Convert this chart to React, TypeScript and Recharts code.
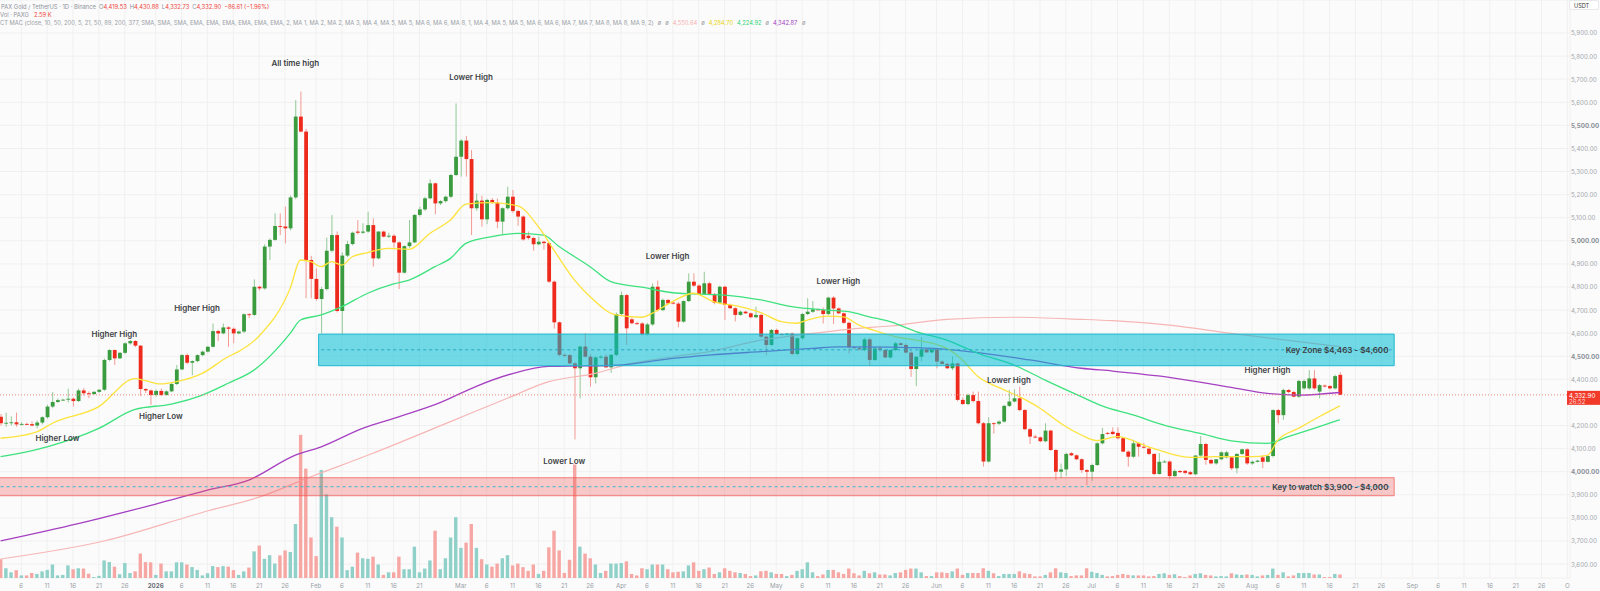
import React from "react";
import {
  ComposedChart,
  Bar,
  Line,
  XAxis,
  YAxis,
  CartesianGrid,
  ReferenceArea,
  ReferenceLine,
  ReferenceDot,
} from "recharts";

// PAXG/USDT daily candles, Dec 2 2025 .. Aug 18 2026 (axis runs on to Oct 1)
const totalDays = 304;

const opens = [
  4238, 4210, 4212, 4214, 4205, 4207, 4206, 4200, 4213, 4236,
  4282, 4302, 4310, 4312, 4316, 4306, 4352, 4340, 4336, 4346,
  4355, 4484, 4527, 4491, 4515, 4556, 4566, 4546, 4358, 4352,
  4332, 4350, 4332, 4348, 4380, 4443, 4505, 4472, 4479, 4505,
  4520, 4541, 4609, 4599, 4625, 4619, 4599, 4607, 4682, 4679,
  4801, 4794, 4975, 5004, 5064, 5062, 5054, 5188, 5538, 5473,
  4917, 4835, 4748, 4791, 4957, 5025, 4696, 4936, 4986, 5040,
  5035, 5040, 5068, 4924, 5040, 5018, 5022, 4993, 4862, 4977,
  4993, 5112, 5136, 5184, 5249, 5162, 5172, 5191, 5285, 5364,
  5434, 5354, 5141, 5174, 5093, 5177, 5165, 5083, 5141, 5191,
  5129, 5105, 5022, 5012, 4985, 4996, 4990, 4823, 4647, 4506,
  4505, 4469, 4448, 4542, 4498, 4409, 4495, 4498, 4452, 4506,
  4683, 4765, 4660, 4643, 4642, 4596, 4638, 4801, 4700, 4744,
  4732, 4728, 4650, 4739, 4823, 4806, 4770, 4816, 4770, 4732,
  4801, 4722, 4708, 4679, 4693, 4686, 4669, 4679, 4585, 4549,
  4614, 4596, 4594, 4598, 4510, 4578, 4683, 4693, 4703, 4700,
  4683, 4754, 4707, 4686, 4645, 4539, 4535, 4527, 4573, 4484,
  4534, 4527, 4495, 4527, 4556, 4549, 4516, 4445, 4498, 4530,
  4517, 4530, 4477, 4467, 4448, 4469, 4311, 4293, 4332, 4306,
  4210, 4044, 4210, 4208, 4217, 4285, 4304, 4318, 4267, 4184,
  4152, 4149, 4132, 4178, 4094, 4000, 4010, 4080, 4071, 4054,
  4007, 4000, 4029, 4123, 4168, 4173, 4168, 4145, 4087, 4065,
  4123, 4108, 4100, 4077, 3990, 4043, 4044, 3981, 4003, 4004,
  3998, 3989, 4070, 4120, 4051, 4036, 4054, 4062, 4062, 4015,
  4077, 4097, 4036, 4043, 4062, 4043, 4068, 4267, 4245, 4354,
  4345, 4325, 4361, 4361, 4404, 4347, 4373, 4371, 4361, 4419.53,
];

const highs = [
  4250, 4256, 4240, 4256, 4215, 4212, 4218, 4222, 4240, 4290,
  4345, 4318, 4316, 4360, 4322, 4360, 4362, 4348, 4348, 4356,
  4490, 4530, 4530, 4518, 4560, 4570, 4570, 4548, 4362, 4356,
  4356, 4360, 4352, 4385, 4462, 4510, 4512, 4482, 4508, 4524,
  4545, 4642, 4615, 4642, 4630, 4625, 4612, 4685, 4686, 4833,
  4805, 4985, 5010, 5119, 5119, 5148, 5196, 5610, 5646, 5485,
  4935, 4880, 4800, 5014, 5112, 5040, 4950, 5000, 5040, 5090,
  5076, 5126, 5097, 5042, 5044, 5035, 5028, 4998, 4980, 5090,
  5116, 5148, 5191, 5266, 5252, 5176, 5195, 5290, 5595, 5440,
  5454, 5393, 5205, 5195, 5182, 5185, 5183, 5145, 5234, 5220,
  5135, 5110, 5040, 5018, 5018, 5000, 4995, 4828, 4650, 4512,
  4510, 4475, 4545, 4600, 4510, 4500, 4505, 4508, 4510, 4690,
  4780, 4770, 4668, 4650, 4648, 4645, 4815, 4828, 4750, 4748,
  4736, 4735, 4742, 4859, 4859, 4812, 4866, 4822, 4775, 4806,
  4806, 4728, 4712, 4698, 4697, 4690, 4715, 4684, 4590, 4618,
  4620, 4600, 4600, 4603, 4582, 4688, 4751, 4739, 4708, 4712,
  4758, 4760, 4712, 4690, 4650, 4544, 4545, 4580, 4580, 4540,
  4545, 4532, 4530, 4562, 4560, 4556, 4525, 4500, 4582, 4535,
  4532, 4536, 4482, 4470, 4500, 4472, 4322, 4338, 4347, 4347,
  4215, 4236, 4214, 4222, 4290, 4354, 4356, 4368, 4272, 4190,
  4160, 4152, 4210, 4182, 4098, 4035, 4082, 4085, 4075, 4058,
  4012, 4035, 4128, 4190, 4172, 4192, 4192, 4150, 4092, 4138,
  4127, 4125, 4108, 4080, 4080, 4050, 4048, 4010, 4008, 4006,
  4004, 4072, 4155, 4125, 4056, 4055, 4088, 4090, 4066, 4080,
  4100, 4102, 4048, 4052, 4070, 4072, 4270, 4272, 4360, 4358,
  4350, 4398, 4400, 4440, 4440, 4380, 4378, 4376, 4420, 4430.88,
];

const lows = [
  4200, 4195, 4200, 4195, 4200, 4202, 4196, 4188, 4205, 4230,
  4275, 4298, 4306, 4300, 4282, 4302, 4330, 4318, 4334, 4342,
  4350, 4478, 4462, 4488, 4510, 4550, 4540, 4328, 4340, 4289,
  4325, 4328, 4330, 4345, 4375, 4440, 4465, 4418, 4475, 4500,
  4516, 4538, 4566, 4595, 4541, 4556, 4595, 4600, 4665, 4675,
  4785, 4788, 4917, 5000, 5025, 4989, 5045, 5180, 5470, 4751,
  4751, 4740, 4600, 4785, 4950, 4690, 4596, 4930, 4980, 5028,
  5030, 5035, 4888, 4920, 5015, 5012, 4970, 4791, 4858, 4970,
  4990, 5105, 5130, 5180, 5115, 5155, 5165, 5185, 5280, 5278,
  5278, 5025, 5130, 5061, 5072, 5160, 5054, 5028, 5135, 5120,
  5065, 5000, 5005, 4957, 4980, 4962, 4818, 4620, 4500, 4496,
  4465, 4140, 4318, 4495, 4369, 4382, 4490, 4450, 4428, 4500,
  4678, 4549, 4638, 4636, 4590, 4590, 4632, 4695, 4695, 4725,
  4724, 4625, 4645, 4735, 4800, 4765, 4765, 4765, 4725, 4728,
  4657, 4705, 4651, 4675, 4684, 4665, 4665, 4580, 4505, 4545,
  4592, 4590, 4590, 4505, 4505, 4572, 4678, 4688, 4698, 4642,
  4678, 4640, 4683, 4640, 4512, 4530, 4525, 4522, 4458, 4480,
  4520, 4492, 4490, 4522, 4548, 4512, 4411, 4371, 4478, 4512,
  4512, 4448, 4465, 4445, 4440, 4305, 4290, 4288, 4300, 4205,
  4022, 4040, 4165, 4202, 4212, 4280, 4300, 4262, 4180, 4120,
  4145, 4128, 4128, 4090, 3964, 3972, 3981, 4068, 4050, 3995,
  3942, 3960, 4025, 4118, 4160, 4160, 4140, 4085, 4022, 4060,
  4065, 4100, 4072, 3985, 3988, 4040, 3967, 3978, 3995, 3988,
  3986, 3985, 4065, 4030, 4032, 4030, 4050, 4058, 4007, 3993,
  4072, 4030, 4030, 4040, 4015, 4040, 4062, 4210, 4225, 4340,
  4322, 4320, 4355, 4355, 4355, 4318, 4365, 4356, 4356, 4332.73,
];

const closes = [
  4210, 4212, 4214, 4205, 4207, 4206, 4200, 4213, 4236, 4282,
  4302, 4310, 4312, 4316, 4306, 4352, 4340, 4336, 4346, 4355,
  4484, 4527, 4491, 4515, 4556, 4566, 4546, 4358, 4352, 4332,
  4350, 4332, 4348, 4380, 4443, 4505, 4472, 4479, 4505, 4520,
  4541, 4609, 4599, 4625, 4619, 4599, 4607, 4682, 4679, 4801,
  4794, 4975, 5004, 5064, 5062, 5054, 5188, 5538, 5473, 4917,
  4835, 4748, 4791, 4957, 5025, 4696, 4936, 4986, 5035, 5035,
  5040, 5068, 4924, 5040, 5018, 5022, 4993, 4862, 4977, 4993,
  5112, 5136, 5184, 5249, 5162, 5172, 5191, 5285, 5364, 5434,
  5354, 5141, 5174, 5093, 5177, 5165, 5083, 5141, 5191, 5129,
  5105, 5006, 5012, 4985, 4996, 4990, 4823, 4647, 4506, 4505,
  4469, 4448, 4542, 4498, 4409, 4495, 4498, 4452, 4506, 4683,
  4765, 4621, 4643, 4642, 4596, 4638, 4801, 4700, 4744, 4729,
  4728, 4650, 4739, 4823, 4806, 4770, 4816, 4770, 4732, 4801,
  4722, 4708, 4679, 4693, 4686, 4669, 4679, 4585, 4549, 4614,
  4596, 4594, 4598, 4510, 4578, 4683, 4693, 4703, 4700, 4683,
  4754, 4707, 4686, 4645, 4539, 4535, 4530, 4573, 4484, 4534,
  4527, 4495, 4527, 4556, 4549, 4516, 4445, 4498, 4530, 4517,
  4530, 4477, 4467, 4448, 4469, 4311, 4293, 4332, 4306, 4210,
  4044, 4210, 4208, 4217, 4285, 4304, 4318, 4267, 4184, 4152,
  4149, 4132, 4178, 4094, 4000, 4010, 4077, 4071, 4054, 4007,
  4000, 4029, 4123, 4163, 4165, 4163, 4145, 4087, 4065, 4123,
  4108, 4104, 4077, 3990, 4043, 4044, 3981, 4003, 3998, 3995,
  3989, 4070, 4120, 4051, 4036, 4054, 4084, 4084, 4015, 4077,
  4097, 4036, 4043, 4048, 4043, 4068, 4267, 4245, 4354, 4345,
  4325, 4393, 4393, 4404, 4361, 4375, 4370, 4361, 4414, 4332.9,
];

// volume in thousands of PAXG
const volumes = [
  13.9, 7.2, 4.2, 5.8, 1.9, 1.9, 3.7, 3.0, 4.9, 6.0,
  10.0, 1.9, 2.3, 9.3, 6.5, 7.2, 7.0, 3.2, 0.7, 1.6,
  13.0, 11.8, 8.4, 2.8, 11.1, 3.7, 4.9, 18.1, 11.8, 11.6,
  2.3, 10.7, 4.9, 4.9, 11.6, 11.6, 10.0, 8.1, 6.0, 1.9,
  3.5, 8.8, 8.1, 8.8, 8.4, 5.8, 2.3, 4.9, 7.7, 19.7,
  24, 14.2, 16.9, 10.7, 16.7, 20.4, 19.3, 40, 106, 81,
  30, 16.2, 80, 62, 45, 38, 30, 5.8, 8.4, 18.8,
  14.6, 14.2, 15.8, 10.0, 2.3, 4.2, 4.2, 15.8, 6.5, 6.5,
  23.2, 4.2, 7.0, 13.0, 35, 6.5, 14.6, 30, 45, 22.3,
  26.2, 40, 22.3, 13.9, 10.0, 8.4, 10.7, 14.6, 16.9, 9.3,
  10.7, 8, 5.3, 10.0, 3.0, 5.3, 22.7, 35, 20.4, 3.7,
  13.5, 84, 23.2, 18.1, 14.6, 10.0, 3.7, 5.3, 10.7, 10.7,
  11.1, 12.3, 3.0, 1.9, 7.2, 6.5, 10.0, 10.0, 10.0, 6.5,
  4.2, 4.6, 4.9, 9.3, 11.6, 5.3, 6.5, 7.7, 3.0, 4.2,
  7.2, 5.3, 4.2, 3.7, 3.0, 1.4, 1.9, 5.0, 5.3, 4.2,
  3.0, 3.0, 1.4, 2.3, 5.3, 6.5, 11.6, 4.2, 1.4, 2.6,
  6.0, 6.0, 4.2, 3.0, 7.0, 3.5, 1.9, 5.3, 3.5, 4.2,
  2.6, 2.6, 1.9, 3.7, 4.2, 6.0, 7.0, 7.0, 4.2, 1.4,
  1.4, 4.2, 4.2, 3.7, 4.9, 7.0, 2.3, 3.7, 3.7, 3.7,
  7.2, 5.3, 3.5, 1.4, 3.0, 3.0, 3.0, 4.9, 3.5, 3.0,
  1.2, 1.2, 2.3, 4.2, 7.2, 4.2, 3.7, 1.4, 1.9, 1.9,
  7.2, 4.6, 3.7, 2.3, 1.2, 1.4, 2.3, 3.0, 2.3, 1.9,
  1.9, 1.9, 1.2, 1.4, 3.0, 3.5, 2.3, 2.8, 1.4, 0.7,
  1.9, 3.0, 3.5, 2.3, 1.9, 1.2, 1.4, 1.2, 3.5, 2.6,
  2.3, 2.6, 2.3, 1.2, 1.9, 2.3, 7.0, 2.3, 4.2, 1.2,
  1.9, 3.7, 3.7, 3.7, 2.6, 2.6, 0.7, 0.7, 3.0, 2.59,
];

// moving averages: [day index, value]
const maYellow: [number, number][] = [
  [0, 4145], [7, 4173], [10, 4210], [19, 4282], [26, 4403], [28, 4394], [31, 4380],
  [34, 4390], [39, 4426], [44, 4498], [46, 4520], [50, 4588], [56, 4794], [58, 4917],
  [60, 4910], [62, 4888], [64, 4910], [66, 4895], [68, 4931], [71, 4949], [75, 4967],
  [79, 4963], [83, 5032], [87, 5090], [90, 5159], [95, 5165], [100, 5151], [104, 5061],
  [107, 4960], [111, 4830], [114, 4758], [119, 4679], [124, 4669], [126, 4686],
  [130, 4738], [134, 4773], [138, 4736], [143, 4715], [147, 4689], [151, 4650],
  [154, 4643], [156, 4657], [160, 4674], [163, 4671], [166, 4635], [170, 4605],
  [173, 4585], [177, 4570], [183, 4534], [186, 4484], [189, 4412], [193, 4365],
  [197, 4325], [201, 4275], [205, 4210], [209, 4159], [212, 4135], [216, 4152],
  [222, 4108], [230, 4062], [235, 4065], [242, 4065], [245, 4071], [247, 4137],
  [251, 4188], [255, 4238], [259, 4285],
];
const maGreen: [number, number][] = [
  [0, 4065], [9, 4108], [19, 4188], [26, 4270], [33, 4293], [39, 4332], [44, 4383],
  [49, 4440], [56, 4599], [58, 4657], [62, 4679], [66, 4715], [71, 4773], [76, 4813],
  [79, 4830], [84, 4888], [87, 4924], [90, 4989], [95, 5018], [100, 5032], [105, 5025],
  [108, 4975], [114, 4888], [118, 4823], [124, 4799], [130, 4775], [134, 4770],
  [140, 4765], [147, 4744], [153, 4715], [160, 4700], [164, 4693], [168, 4671],
  [172, 4650], [177, 4607], [183, 4570], [189, 4513], [196, 4462], [202, 4397],
  [209, 4325], [213, 4285], [219, 4246], [225, 4202], [232, 4166], [238, 4134],
  [245, 4123], [249, 4152], [254, 4188], [259, 4225],
];
const maPurple: [number, number][] = [
  [0, 3700], [15, 3775], [30, 3860], [40, 3920], [48, 3964], [57, 4072], [62, 4108],
  [70, 4188], [77, 4238], [85, 4299], [92, 4370], [99, 4425], [106, 4456], [112, 4458],
  [119, 4461], [130, 4491], [137, 4505], [147, 4520], [157, 4534], [162, 4541],
  [172, 4540], [177, 4537], [183, 4530], [189, 4516], [199, 4484], [209, 4448],
  [215, 4436], [226, 4409], [238, 4365], [245, 4339], [251, 4332], [259, 4343],
];
const maPink: [number, number][] = [
  [0, 3622], [20, 3700], [40, 3830], [50, 3890], [60, 3978], [72, 4080], [87, 4217],
  [98, 4318], [106, 4390], [115, 4426], [122, 4469], [130, 4498], [137, 4520],
  [147, 4570], [157, 4599], [166, 4621], [172, 4631], [183, 4660], [196, 4669],
  [209, 4660], [215, 4654], [226, 4635], [238, 4599], [251, 4563], [259, 4542],
];

const xTicks: [string, string][] = [
  ["2025-12-06", "6"], ["2025-12-11", "11"], ["2025-12-16", "16"], ["2025-12-21", "21"],
  ["2025-12-26", "26"], ["2026-01-01", "2026"], ["2026-01-06", "6"], ["2026-01-11", "11"],
  ["2026-01-16", "16"], ["2026-01-21", "21"], ["2026-01-26", "26"], ["2026-02-01", "Feb"],
  ["2026-02-06", "6"], ["2026-02-11", "11"], ["2026-02-16", "16"], ["2026-02-21", "21"],
  ["2026-03-01", "Mar"], ["2026-03-06", "6"], ["2026-03-11", "11"], ["2026-03-16", "16"],
  ["2026-03-21", "21"], ["2026-03-26", "26"], ["2026-04-01", "Apr"], ["2026-04-06", "6"],
  ["2026-04-11", "11"], ["2026-04-16", "16"], ["2026-04-21", "21"], ["2026-04-26", "26"],
  ["2026-05-01", "May"], ["2026-05-06", "6"], ["2026-05-11", "11"], ["2026-05-16", "16"],
  ["2026-05-21", "21"], ["2026-05-26", "26"], ["2026-06-01", "Jun"], ["2026-06-06", "6"],
  ["2026-06-11", "11"], ["2026-06-16", "16"], ["2026-06-21", "21"], ["2026-06-26", "26"],
  ["2026-07-01", "Jul"], ["2026-07-06", "6"], ["2026-07-11", "11"], ["2026-07-16", "16"],
  ["2026-07-21", "21"], ["2026-07-26", "26"], ["2026-08-01", "Aug"], ["2026-08-06", "6"],
  ["2026-08-11", "11"], ["2026-08-16", "16"], ["2026-08-21", "21"], ["2026-08-26", "26"],
  ["2026-09-01", "Sep"], ["2026-09-06", "6"], ["2026-09-11", "11"], ["2026-09-16", "16"],
  ["2026-09-21", "21"], ["2026-09-26", "26"], ["2026-10-01", "O"],
];

const priceTicks = [
  3600, 3700, 3800, 3900, 4000, 4100, 4200, 4400, 4500, 4600, 4700, 4800,
  4900, 5000, 5100, 5200, 5300, 5400, 5500, 5600, 5700, 5800, 5900,
];
const boldPrices = [4000, 4500, 5000, 5500];

const notes: [string, number, string][] = [
  ["2026-01-28", 5770, "All time high"],
  ["2026-03-03", 5709, "Lower High"],
  ["2025-12-24", 4596, "Higher High"],
  ["2026-01-09", 4709, "Higher High"],
  ["2025-12-13", 4146, "Higher Low"],
  ["2026-01-02", 4241, "Higher Low"],
  ["2026-03-21", 4048, "Lower Low"],
  ["2026-04-10", 4934, "Lower High"],
  ["2026-05-13", 4826, "Lower High"],
  ["2026-06-15", 4397, "Lower High"],
  ["2026-08-04", 4441, "Higher High"],
];

const keyZone = { from: "2026-02-02", to: "2026-08-28", low: 4459, high: 4596, mid: 4528 };
const watchZone = { to: "2026-08-28", low: 3896, high: 3974, mid: 3935 };
const lastPrice = 4332.9;

const UP = "#3a9c3f";
const DOWN = "#ee2a1c";
const UP_WICK = "#93c996";
const DOWN_WICK = "#f39a93";
const FONT = "Inter, sans-serif";

const days = Array.from({ length: totalDays }, (_, i) =>
  new Date(Date.UTC(2025, 11, 2 + i)).toISOString().slice(0, 10)
);

const table: any[] = days.map((day, i) => ({
  day,
  o: opens[i],
  h: highs[i],
  l: lows[i],
  c: closes[i],
  range: i < opens.length ? [lows[i], highs[i]] : null,
  vol: i < volumes.length ? volumes[i] : null,
}));
maYellow.forEach(([i, v]) => (table[i].yellow = v));
maGreen.forEach(([i, v]) => (table[i].green = v));
maPurple.forEach(([i, v]) => (table[i].purple = v));
maPink.forEach(([i, v]) => (table[i].pink = v));

const tickLabel: Record<string, string> = Object.fromEntries(xTicks);

const fmt = (v: number) =>
  v.toLocaleString("en-US", { minimumFractionDigits: 2, maximumFractionDigits: 2 });

const Candle = (props: any) => {
  const { x, y, width, height, payload } = props;
  if (!payload || payload.o == null) return null;
  const { o, h, l, c } = payload;
  const up = c >= o;
  const cx = x + width / 2;
  const k = height / (h - l || 1);
  const yo = y + (h - o) * k;
  const yc = y + (h - c) * k;
  const top = Math.min(yo, yc);
  const bh = Math.max(Math.abs(yc - yo), 0.9);
  return (
    <g>
      <line x1={cx} x2={cx} y1={y} y2={y + height} stroke={up ? UP_WICK : DOWN_WICK} strokeWidth={1} />
      <rect x={cx - 1.9} y={top} width={3.8} height={bh} fill={up ? UP : DOWN} />
    </g>
  );
};

const VolBar = (props: any) => {
  const { x, y, width, height, payload } = props;
  if (!payload || payload.vol == null || height <= 0) return null;
  const up = payload.c >= payload.o;
  return <rect x={x} y={y} width={width - 0.6} height={height} fill={up ? "#8fd0c8" : "#f6a6a3"} />;
};

const TimeTick = (props: any) => {
  const { x, y, payload } = props;
  const label = tickLabel[payload.value] ?? "";
  return (
    <text
      x={x}
      y={y + 7}
      textAnchor="middle"
      dominantBaseline="central"
      fontSize={6.2}
      fontFamily={FONT}
      fontWeight={label === "2026" ? 700 : 400}
      fill={label === "2026" ? "#6b6f78" : "#9a9ea6"}
    >
      {label}
    </text>
  );
};

const PriceTick = (props: any) => {
  const { x, y, payload } = props;
  const bold = boldPrices.includes(payload.value);
  return (
    <text
      x={x}
      y={y}
      textAnchor="start"
      dominantBaseline="central"
      fontSize={6.2}
      fontFamily={FONT}
      fontWeight={bold ? 700 : 400}
      fill={bold ? "#8a8e97" : "#a3a7ae"}
    >
      {fmt(payload.value)}
    </text>
  );
};

const PriceTag = (props: any) => {
  const vb = props.viewBox;
  const x = vb.x + vb.width;
  const y = vb.y;
  return (
    <g>
      <rect x={x - 3} y={y - 4} width={36} height={14} fill="#f23a2a" />
      <text x={x - 1} y={y + 0.5} dominantBaseline="central" fontSize={6.2} fontFamily={FONT} fill="#fff">
        {fmt(lastPrice)}
      </text>
      <text x={x - 1} y={y + 6.8} dominantBaseline="central" fontSize={6} fontFamily={FONT} fill="#ffd9d4">
        26:52
      </text>
    </g>
  );
};

const noteShape = (text: string, anchor: "middle" | "end", dx: number) => (p: any) =>
  (
    <text
      x={p.cx + dx}
      y={p.cy}
      textAnchor={anchor}
      dominantBaseline="central"
      fontSize={8}
      fontWeight={600}
      fontFamily={FONT}
      fill="#3d3f45"
    >
      {text}
    </text>
  );

const maParams =
  "CT MAC (close, 10, 50, 200, 5, 21, 50, 89, 200, 377, SMA, SMA, SMA, EMA, EMA, EMA, EMA, EMA, EMA, 2, " +
  "MA 1, MA 2, MA 2, MA 3, MA 4, MA 5, MA 5, MA 6, MA 6, MA 8, 1, MA 4, MA 5, MA 5, MA 6, MA 6, MA 7, MA 7, " +
  "MA 8, MA 8, MA 9, 2)";

const HEAD = 5.8;

const Header = () => (
  <svg width={1600} height={40} style={{ position: "absolute", left: 0, top: 0, pointerEvents: "none" }}>
    <text x={1} y={6} dominantBaseline="central" fontSize={HEAD} fontFamily={FONT} fill="#8f939c">
      <tspan>PAX Gold / TetherUS · 1D · Binance</tspan>
      <tspan dx={3}>O</tspan>
      <tspan fill="#f2433a">4,419.53</tspan>
      <tspan dx={3}>H</tspan>
      <tspan fill="#f2433a">4,430.88</tspan>
      <tspan dx={3}>L</tspan>
      <tspan fill="#f2433a">4,332.73</tspan>
      <tspan dx={3}>C</tspan>
      <tspan fill="#f2433a">4,332.90</tspan>
      <tspan dx={3} fill="#f2433a">−86.61 (−1.96%)</tspan>
    </text>
    <text x={0} y={13.5} dominantBaseline="central" fontSize={HEAD} fontFamily={FONT} fill="#8f939c">
      <tspan>Vol · PAXG</tspan>
      <tspan dx={5} fill="#f2433a">2.59 K</tspan>
    </text>
    <text x={0} y={22} dominantBaseline="central" fontSize={HEAD} fontFamily={FONT} fill="#9a9ea6">
      <tspan>{maParams}</tspan>
      <tspan dx={4}>ø</tspan>
      <tspan dx={4}>ø</tspan>
      <tspan dx={4} fill="#f6b0b0">4,550.64</tspan>
      <tspan dx={4}>ø</tspan>
      <tspan dx={4} fill="#e8d40c">4,284.70</tspan>
      <tspan dx={4} fill="#2fd374">4,224.92</tspan>
      <tspan dx={4}>ø</tspan>
      <tspan dx={4} fill="#a33fbf">4,342.87</tspan>
      <tspan dx={5}>ø</tspan>
    </text>
  </svg>
);

export default function App() {
  return (
    <div style={{ position: "relative", width: 1600, height: 591, overflow: "hidden", background: "#fbfbfb" }}>
      <style>{"body{margin:0;background:#fbfbfb}"}</style>
      <div style={{ position: "absolute", left: -2, top: 0 }}>
        <ComposedChart
          width={1602}
          height={591}
          data={table}
          margin={{ top: 0, right: 0, bottom: 0, left: 0 }}
          barGap={-4}
        >
          <CartesianGrid stroke="#f0f0f1" yAxisId="price" />
          <XAxis
            dataKey="day"
            ticks={xTicks.map((t) => t[0])}
            interval={0}
            height={13}
            tickLine={false}
            axisLine={false}
            tickSize={0}
            tickMargin={0}
            tick={<TimeTick />}
          />
          <YAxis
            yAxisId="price"
            orientation="right"
            domain={[3539.7, 6042.9]}
            ticks={priceTicks}
            allowDataOverflow
            width={30}
            tickLine={false}
            axisLine={false}
            tickSize={0}
            tickMargin={1}
            tick={<PriceTick />}
          />
          <YAxis yAxisId="vol" hide domain={[0, 428]} allowDataOverflow />
          <Bar yAxisId="vol" dataKey="vol" barSize={4} shape={<VolBar />} isAnimationActive={false} />
          <Bar yAxisId="price" dataKey="range" barSize={4} shape={<Candle />} isAnimationActive={false} />
          <Line yAxisId="price" type="monotone" dataKey="pink" stroke="#f7b6b6" strokeWidth={1.2} dot={false} activeDot={false} connectNulls isAnimationActive={false} />
          <Line yAxisId="price" type="monotone" dataKey="purple" stroke="#a641c2" strokeWidth={1.3} dot={false} activeDot={false} connectNulls isAnimationActive={false} />
          <Line yAxisId="price" type="monotone" dataKey="green" stroke="#3de27e" strokeWidth={1.3} dot={false} activeDot={false} connectNulls isAnimationActive={false} />
          <Line yAxisId="price" type="monotone" dataKey="yellow" stroke="#fde33c" strokeWidth={1.3} dot={false} activeDot={false} connectNulls isAnimationActive={false} />
          <ReferenceArea
            yAxisId="price"
            x2={watchZone.to}
            y1={watchZone.low}
            y2={watchZone.high}
            fill="#ef5350"
            fillOpacity={0.3}
            stroke="#ef5350"
            strokeOpacity={0.7}
            strokeWidth={1}
            {...({ zIndex: 450 } as any)}
          />
          <ReferenceArea
            yAxisId="price"
            x1={keyZone.from}
            x2={keyZone.to}
            y1={keyZone.low}
            y2={keyZone.high}
            fill="#00bcd4"
            fillOpacity={0.55}
            stroke="#1fb8cf"
            strokeWidth={1}
            {...({ zIndex: 450 } as any)}
          />
          <ReferenceLine
            yAxisId="price"
            segment={[{ x: keyZone.from, y: keyZone.mid }, { x: keyZone.to, y: keyZone.mid }]}
            stroke="#26a9c4"
            strokeDasharray="3 3"
            {...({ zIndex: 460 } as any)}
          />
          <ReferenceLine
            yAxisId="price"
            segment={[{ x: days[0], y: watchZone.mid }, { x: watchZone.to, y: watchZone.mid }]}
            stroke="#3bb8d0"
            strokeDasharray="3 3"
            {...({ zIndex: 460 } as any)}
          />
          <ReferenceLine
            yAxisId="price"
            y={lastPrice}
            stroke="#f0867e"
            strokeDasharray="1 2"
            label={(p: any) => <PriceTag {...p} />}
          />
          {notes.map(([d, v, t], k) => (
            <ReferenceDot key={k} yAxisId="price" x={d} y={v} r={0} shape={noteShape(t, "middle", 0)} />
          ))}
          <ReferenceDot yAxisId="price" x="2026-08-27" y={4527} r={0} shape={noteShape("Key Zone $4,463 - $4,600", "end", 2)} />
          <ReferenceDot yAxisId="price" x="2026-08-27" y={3935} r={0} shape={noteShape("Key to watch $3,900 - $4,000", "end", 2)} />
        </ComposedChart>
      </div>
      <Header />
      <div
        style={{
          position: "absolute",
          left: 1569,
          top: 0,
          width: 30,
          height: 10,
          background: "#fff",
          border: "1px solid #e6e8ec",
          borderRadius: 2,
          boxSizing: "border-box",
        }}
      >
        <svg width={30} height={10} style={{ position: "absolute", left: 0, top: 0 }}>
          <text x={4} y={5} dominantBaseline="central" fontSize={5.6} fontFamily={FONT} fill="#333">
            USDT
          </text>
        </svg>
      </div>
    </div>
  );
}
